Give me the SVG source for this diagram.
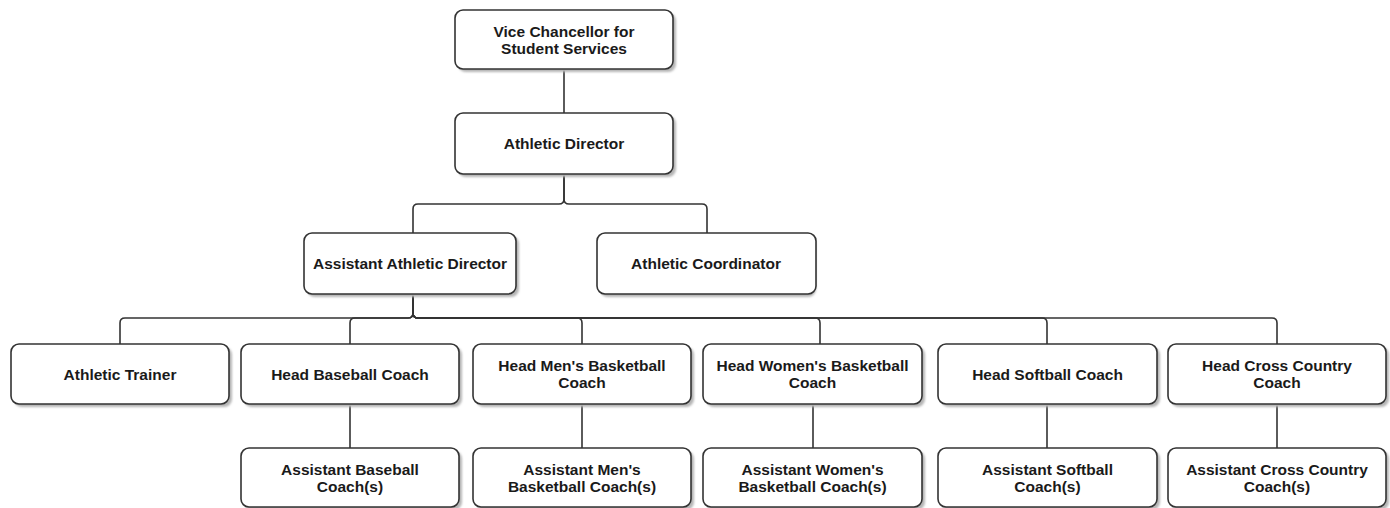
<svg xmlns="http://www.w3.org/2000/svg" width="1390" height="508" viewBox="0 0 1390 508">
<defs>
<filter id="sh" x="-10%" y="-10%" width="130%" height="140%">
<feGaussianBlur stdDeviation="1"/>
</filter>
</defs>
<style>
.box{fill:#ffffff;stroke:#333333;stroke-width:1.6}
.shadow{fill:#b5b5b5;filter:url(#sh)}
.lbl{font-family:"Liberation Sans",Arial,sans-serif;font-weight:bold;font-size:15.5px;fill:#1a1a1a;text-anchor:middle}
.con{fill:none;stroke:#333333;stroke-width:1.6}
</style>
<rect width="1390" height="508" fill="#ffffff"/>
<g id="connectors">
<path class="con" d="M564,69 V113"/>
<path class="con" d="M564,174 V199 Q564,204 559,204 H418 Q413,204 413,209 V233"/>
<path class="con" d="M564,174 V199 Q564,204 569,204 H702 Q707,204 707,209 V233"/>
<path class="con" d="M413,294 V313 Q413,318 408,318 H125 Q120,318 120,323 V344"/>
<path class="con" d="M413,294 V313 Q413,318 408,318 H355 Q350,318 350,323 V344"/>
<path class="con" d="M413,294 V313 Q413,318 418,318 H577 Q582,318 582,323 V344"/>
<path class="con" d="M413,294 V313 Q413,318 418,318 H815 Q820,318 820,323 V344"/>
<path class="con" d="M413,294 V313 Q413,318 418,318 H1042 Q1047,318 1047,323 V344"/>
<path class="con" d="M413,294 V313 Q413,318 418,318 H1272 Q1277,318 1277,323 V344"/>
<path class="con" d="M350,404 V448"/>
<path class="con" d="M582,404 V448"/>
<path class="con" d="M813,404 V448"/>
<path class="con" d="M1047,404 V448"/>
<path class="con" d="M1277,404 V448"/>
</g>
<g id="vice-chancellor">
<rect class="shadow" x="458" y="13" width="218" height="59" rx="8"/>
<rect class="box" x="455" y="10" width="218" height="59" rx="8"/>
<text class="lbl" x="564" y="37">Vice Chancellor for</text>
<text class="lbl" x="564" y="54">Student Services</text>
</g>
<g id="athletic-director">
<rect class="shadow" x="458" y="116" width="218" height="61" rx="8"/>
<rect class="box" x="455" y="113" width="218" height="61" rx="8"/>
<text class="lbl" x="564" y="149">Athletic Director</text>
</g>
<g id="assistant-athletic-director">
<rect class="shadow" x="307" y="236" width="212" height="61" rx="8"/>
<rect class="box" x="304" y="233" width="212" height="61" rx="8"/>
<text class="lbl" x="410" y="269">Assistant Athletic Director</text>
</g>
<g id="athletic-coordinator">
<rect class="shadow" x="600" y="236" width="216" height="61" rx="8"/>
<rect class="box" x="597" y="233" width="219" height="61" rx="8"/>
<text class="lbl" x="706" y="269">Athletic Coordinator</text>
</g>
<g id="athletic-trainer">
<rect class="shadow" x="14" y="347" width="218" height="60" rx="8"/>
<rect class="box" x="11" y="344" width="218" height="60" rx="8"/>
<text class="lbl" x="120" y="380">Athletic Trainer</text>
</g>
<g id="head-baseball">
<rect class="shadow" x="244" y="347" width="218" height="60" rx="8"/>
<rect class="box" x="241" y="344" width="218" height="60" rx="8"/>
<text class="lbl" x="350" y="380">Head Baseball Coach</text>
</g>
<g id="head-mens-basketball">
<rect class="shadow" x="476" y="347" width="218" height="60" rx="8"/>
<rect class="box" x="473" y="344" width="218" height="60" rx="8"/>
<text class="lbl" x="582" y="371">Head Men's Basketball</text>
<text class="lbl" x="582" y="388">Coach</text>
</g>
<g id="head-womens-basketball">
<rect class="shadow" x="706" y="347" width="219" height="60" rx="8"/>
<rect class="box" x="703" y="344" width="219" height="60" rx="8"/>
<text class="lbl" x="812.5" y="371">Head Women's Basketball</text>
<text class="lbl" x="812.5" y="388">Coach</text>
</g>
<g id="head-softball">
<rect class="shadow" x="941" y="347" width="219" height="60" rx="8"/>
<rect class="box" x="938" y="344" width="219" height="60" rx="8"/>
<text class="lbl" x="1047.5" y="380">Head Softball Coach</text>
</g>
<g id="head-cross-country">
<rect class="shadow" x="1171" y="347" width="218" height="60" rx="8"/>
<rect class="box" x="1168" y="344" width="218" height="60" rx="8"/>
<text class="lbl" x="1277" y="371">Head Cross Country</text>
<text class="lbl" x="1277" y="388">Coach</text>
</g>
<g id="assistant-baseball">
<rect class="shadow" x="244" y="451" width="218" height="59" rx="8"/>
<rect class="box" x="241" y="448" width="218" height="59" rx="8"/>
<text class="lbl" x="350" y="475">Assistant Baseball</text>
<text class="lbl" x="350" y="492">Coach(s)</text>
</g>
<g id="assistant-mens-basketball">
<rect class="shadow" x="476" y="451" width="218" height="59" rx="8"/>
<rect class="box" x="473" y="448" width="218" height="59" rx="8"/>
<text class="lbl" x="582" y="475">Assistant Men's</text>
<text class="lbl" x="582" y="492">Basketball Coach(s)</text>
</g>
<g id="assistant-womens-basketball">
<rect class="shadow" x="706" y="451" width="219" height="59" rx="8"/>
<rect class="box" x="703" y="448" width="219" height="59" rx="8"/>
<text class="lbl" x="812.5" y="475">Assistant Women's</text>
<text class="lbl" x="812.5" y="492">Basketball Coach(s)</text>
</g>
<g id="assistant-softball">
<rect class="shadow" x="941" y="451" width="219" height="59" rx="8"/>
<rect class="box" x="938" y="448" width="219" height="59" rx="8"/>
<text class="lbl" x="1047.5" y="475">Assistant Softball</text>
<text class="lbl" x="1047.5" y="492">Coach(s)</text>
</g>
<g id="assistant-cross-country">
<rect class="shadow" x="1171" y="451" width="218" height="59" rx="8"/>
<rect class="box" x="1168" y="448" width="218" height="59" rx="8"/>
<text class="lbl" x="1277" y="475">Assistant Cross Country</text>
<text class="lbl" x="1277" y="492">Coach(s)</text>
</g>
</svg>
